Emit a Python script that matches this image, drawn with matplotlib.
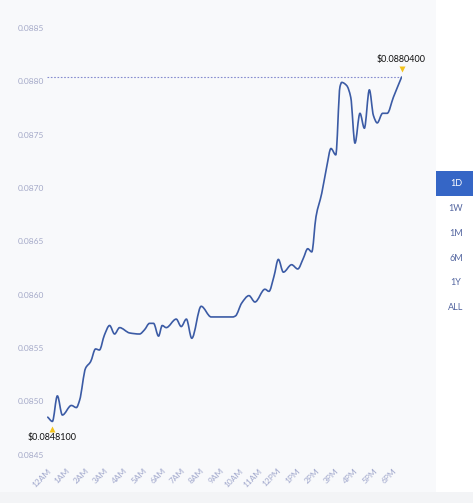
import numpy as np
import matplotlib
matplotlib.use("Agg")
import matplotlib.pyplot as plt
from matplotlib.path import Path
from matplotlib.patches import PathPatch, Rectangle

# ---------------- data ----------------
hours = [0.04, 0.28, 0.54, 0.80, 1.27, 1.53, 1.70, 2.01, 2.27, 2.53, 2.73, 2.99,
         3.26, 3.52, 3.78, 4.30, 4.82, 5.08, 5.34, 5.55, 5.81, 6.00, 6.21, 6.73,
         6.99, 7.26, 7.54, 8.03, 8.55, 9.68, 9.82, 10.14, 10.52, 10.83, 11.35,
         11.56, 11.82, 12.05, 12.31, 12.74, 13.06, 13.35, 13.58, 13.79, 14.01,
         14.31, 14.57, 14.79, 15.04, 15.26, 15.35, 15.61, 15.82, 16.04, 16.30,
         16.53, 16.79, 17.00, 17.20, 17.48, 17.72, 18.04, 18.47]
prices = [0.08485, 0.08481, 0.08505, 0.08487, 0.08496, 0.08494, 0.08501, 0.08531,
          0.08537, 0.08549, 0.08548, 0.08562, 0.08571, 0.08563, 0.08569, 0.08564,
          0.08563, 0.08567, 0.08573, 0.08573, 0.08561, 0.08571, 0.08569, 0.08577,
          0.08570, 0.08577, 0.08559, 0.08589, 0.08579, 0.08579, 0.08580, 0.08592,
          0.08599, 0.08593, 0.08605, 0.08603, 0.08617, 0.08633, 0.08621, 0.08628,
          0.08624, 0.08634, 0.08643, 0.08640, 0.08673, 0.08695, 0.08720, 0.08737,
          0.08731, 0.08795, 0.08799, 0.08796, 0.08785, 0.08742, 0.08770, 0.08756,
          0.08792, 0.08768, 0.08761, 0.08770, 0.08770, 0.08785, 0.08804]
x_tick_labels = ["12AM", "1AM", "2AM", "3AM", "4AM", "5AM", "6AM", "7AM", "8AM",
                 "9AM", "10AM", "11AM", "12PM", "1PM", "2PM", "3PM", "4PM", "5PM", "6PM"]
y_ticks = [0.0845, 0.0850, 0.0855, 0.0860, 0.0865, 0.0870, 0.0875, 0.0880, 0.0885]
min_label = "$0.0848100"
max_label = "$0.0880400"
buttons = ["1D", "1W", "1M", "6M", "1Y", "ALL"]

# ---------------- figure ----------------
W, H = 473, 503
DPI = 100
plt.rcParams["font.family"] = ["Lato", "DejaVu Sans"]
fig = plt.figure(figsize=(W / DPI, H / DPI), dpi=DPI, facecolor="white")

def fx(px):
    return px / W

def fy(py):
    return 1 - py / H

# background panels
fig.patches.append(Rectangle((0, fy(492)), fx(436), 1 - fy(492), transform=fig.transFigure,
                             facecolor="#f8f9fb", edgecolor="none", zorder=-10))
fig.patches.append(Rectangle((0, 0), 1, fy(492), transform=fig.transFigure,
                             facecolor="#f3f4f6", edgecolor="none", zorder=-10))

# axes: x 0..18.49 h -> px 47..402 ; y 0.0845..0.0885 -> py 454.5..28
ax_l, ax_r, ax_t, ax_b = 47, 402, 28, 454.5
ax = fig.add_axes([fx(ax_l), fy(ax_b), fx(ax_r - ax_l), (ax_b - ax_t) / H])
ax.set_zorder(5)
ax.set_facecolor("none")
ax.patch.set_alpha(0)
ax.set_xlim(0, (ax_r - ax_l) / 19.2)
ax.set_ylim(0.0845, 0.0885)
for s in ax.spines.values():
    s.set_visible(False)

x = np.array(hours)
y = np.array(prices)

# monotone cubic (Fritsch-Carlson) drawn as Bezier path
dx = np.diff(x)
sec = np.diff(y) / dx
m = np.zeros_like(y)
m[0] = sec[0]
m[-1] = sec[-1]
for i in range(1, len(y) - 1):
    if sec[i - 1] * sec[i] <= 0:
        m[i] = 0.0
    else:
        w1 = 2 * dx[i] + dx[i - 1]
        w2 = dx[i] + 2 * dx[i - 1]
        m[i] = (w1 + w2) / (w1 / sec[i - 1] + w2 / sec[i])
verts = [(x[0], y[0])]
codes = [Path.MOVETO]
for i in range(len(x) - 1):
    h = dx[i]
    verts += [(x[i] + h / 3, y[i] + m[i] * h / 3),
              (x[i + 1] - h / 3, y[i + 1] - m[i + 1] * h / 3),
              (x[i + 1], y[i + 1])]
    codes += [Path.CURVE4] * 3
ax.add_patch(PathPatch(Path(verts, codes), facecolor="none", edgecolor="#3b5ba5",
                       lw=1.2, capstyle="round", joinstyle="round", zorder=3))

# dashed max line
imax = int(np.argmax(y))
imin = int(np.argmin(y))
ax.plot([0.0, x[imax]], [y[imax], y[imax]], ls=(0, (1.5, 1.5)), color="#858ccf", lw=0.8, zorder=2)

# markers and labels
ax.plot([x[imin]], [y[imin] - 0.00007], marker="^", ms=5, color="#f2c21b", mec="none",
        zorder=4, clip_on=False)
ax.annotate(min_label, (x[imin], y[imin]), xytext=(0, -16), textcoords="offset pixels",
            ha="center", va="center", fontsize=6.5, color="#111111")
ax.plot([x[imax]], [y[imax] + 0.000075], marker="v", ms=5, color="#f2c21b", mec="none",
        zorder=4, clip_on=False)
ax.annotate(max_label, (x[imax], y[imax]), xytext=(-1, 18), textcoords="offset pixels",
            ha="center", va="center", fontsize=6.5, color="#111111")

# ticks
ax.set_yticks(y_ticks)
ax.set_yticklabels([f"{v:.4f}" for v in y_ticks])
ax.tick_params(axis="y", length=0, pad=21, labelsize=6, labelcolor="#a4a9c8")
for t in ax.get_yticklabels():
    t.set_horizontalalignment("left")
ax.set_xticks(list(range(len(x_tick_labels))))
ax.set_xticklabels(x_tick_labels, rotation=45, ha="right", va="top", rotation_mode="anchor")
ax.tick_params(axis="x", length=0, pad=9, labelsize=6, labelcolor="#a0a7cc")

# period buttons
fig.patches.append(Rectangle((fx(436), fy(196)), fx(37), (196 - 171) / H, transform=fig.transFigure,
                             facecolor="#3566c6", edgecolor="none", zorder=1))
for i, b in enumerate(buttons):
    py = 184 + i * 24.7
    fig.text(fx(456), fy(py), b, ha="center", va="center", fontsize=6.5,
             color="white" if i == 0 else "#5466a0")

fig.savefig("out.png", dpi=DPI, facecolor="white")
